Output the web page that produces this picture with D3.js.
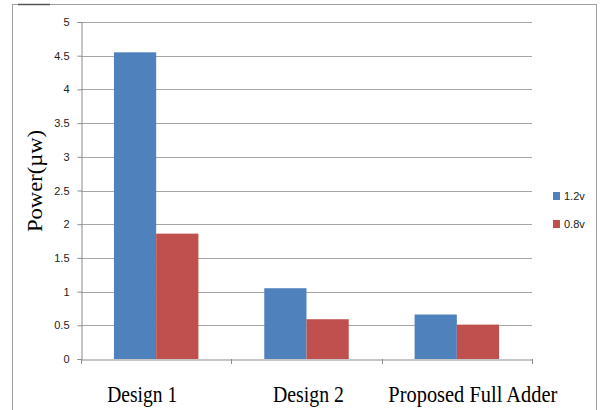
<!DOCTYPE html>
<html>
<head>
<meta charset="utf-8">
<script src="https://cdn.jsdelivr.net/npm/d3@7"></script>
<style>
  body { margin: 0; background: #fff; }
  svg { display: block; }
</style>
</head>
<body>
<svg id="chart" width="601" height="410"></svg>
<script>
// Power per design at two supply voltages
const categories = ["Design 1", "Design 2", "Proposed Full Adder"];
const seriesNames = ["1.2v", "0.8v"];
const power12 = [4.55, 1.05, 0.66];
const power08 = [1.86, 0.59, 0.51];
const yTicks = [0, 0.5, 1, 1.5, 2, 2.5, 3, 3.5, 4, 4.5, 5];
const colors = ["#4F81BD", "#C0504D"];

const svg = d3.select("#chart");
const margin = { left: 81, right: 69, top: 22, bottom: 51 };
const W = 601, H = 410;
const x0 = margin.left, x1 = W - margin.right;
const yTop = margin.top, yBot = H - margin.bottom;

// chart frame
svg.append("rect").attr("x", 12.5).attr("y", 4.5).attr("width", 584).attr("height", 420)
  .attr("fill", "none").attr("stroke", "#a0a0a0").attr("stroke-width", 1);
svg.append("line").attr("x1", 18).attr("x2", 50).attr("y1", 4.5).attr("y2", 4.5)
  .attr("stroke", "#555").attr("stroke-width", 1.5);

const x = d3.scaleBand().domain(categories).range([x0, x1]).paddingInner(0).paddingOuter(0);
const xs = d3.scaleBand().domain(seriesNames).range([0, x.bandwidth()]).paddingOuter(0.78).paddingInner(0);
const y = d3.scaleLinear().domain([0, 5]).range([yBot, yTop]);

// gridlines
svg.append("g").selectAll("line").data(yTicks.filter(t => t > 0)).join("line")
  .attr("x1", x0).attr("x2", x1)
  .attr("y1", d => Math.round(y(d)) + 0.5).attr("y2", d => Math.round(y(d)) + 0.5)
  .attr("stroke", "#a6a6a6").attr("stroke-width", 1);

// bars
const values = [power12, power08];
const g = svg.append("g");
categories.forEach((c, i) => {
  seriesNames.forEach((s, j) => {
    g.append("rect")
      .attr("x", x(c) + xs(s))
      .attr("width", xs.bandwidth())
      .attr("y", y(values[j][i]))
      .attr("height", y(0) - y(values[j][i]))
      .attr("fill", colors[j]);
  });
});

// y axis
const yAxis = svg.append("g").attr("transform", `translate(${x0 + 0.5},0)`)
  .call(d3.axisLeft(y).tickValues(yTicks).tickSize(4).tickPadding(8).tickFormat(d3.format("")));
yAxis.select(".domain").attr("stroke", "#8c8c8c");
yAxis.selectAll(".tick line").attr("stroke", "#8c8c8c");
yAxis.selectAll(".tick text").attr("fill", "#222").style("font-family", "'Liberation Sans', Arial, sans-serif").style("font-size", "11px");

// x axis
const xAxis = svg.append("g").attr("transform", `translate(0,${Math.round(yBot) + 0.5})`)
  .call(d3.axisBottom(x).tickSize(0).tickPadding(0));
xAxis.select(".domain").attr("stroke", "#8c8c8c");

// category labels: narrow serif, slightly offset from band centres
const labelShift = [-14, 2, 16];
const labelWidth = [70, 71, 169];
xAxis.selectAll(".tick text")
  .attr("fill", "#000")
  .attr("dy", null)
  .attr("y", 42)
  .attr("x", (d, i) => labelShift[i])
  .attr("textLength", (d, i) => labelWidth[i])
  .attr("lengthAdjust", "spacingAndGlyphs")
  .style("font-family", "'Liberation Serif', 'Times New Roman', serif")
  .style("font-size", "24px");

// category separators
svg.append("g").selectAll("line").data(d3.range(categories.length + 1)).join("line")
  .attr("x1", i => Math.round(x0 + i * x.bandwidth()) + 0.5)
  .attr("x2", i => Math.round(x0 + i * x.bandwidth()) + 0.5)
  .attr("y1", yBot).attr("y2", yBot + 5)
  .attr("stroke", "#8c8c8c");

// y title
svg.append("text")
  .attr("transform", `translate(42,181) rotate(-90)`)
  .attr("text-anchor", "middle")
  .attr("textLength", 102)
  .attr("lengthAdjust", "spacingAndGlyphs")
  .style("font-family", "'Liberation Serif', 'Times New Roman', serif")
  .style("font-size", "20px")
  .text("Power(µw)");

// legend
const legend = svg.append("g").attr("transform", "translate(553,192)");
seriesNames.forEach((s, j) => {
  const row = legend.append("g").attr("transform", `translate(0,${j * 28})`);
  row.append("rect").attr("width", 7).attr("height", 8).attr("fill", colors[j]);
  row.append("text").attr("x", 11).attr("y", 8)
    .style("font-family", "'Liberation Sans', Arial, sans-serif").style("font-size", "11px")
    .attr("fill", "#222").text(s);
});
</script>
</body>
</html>
